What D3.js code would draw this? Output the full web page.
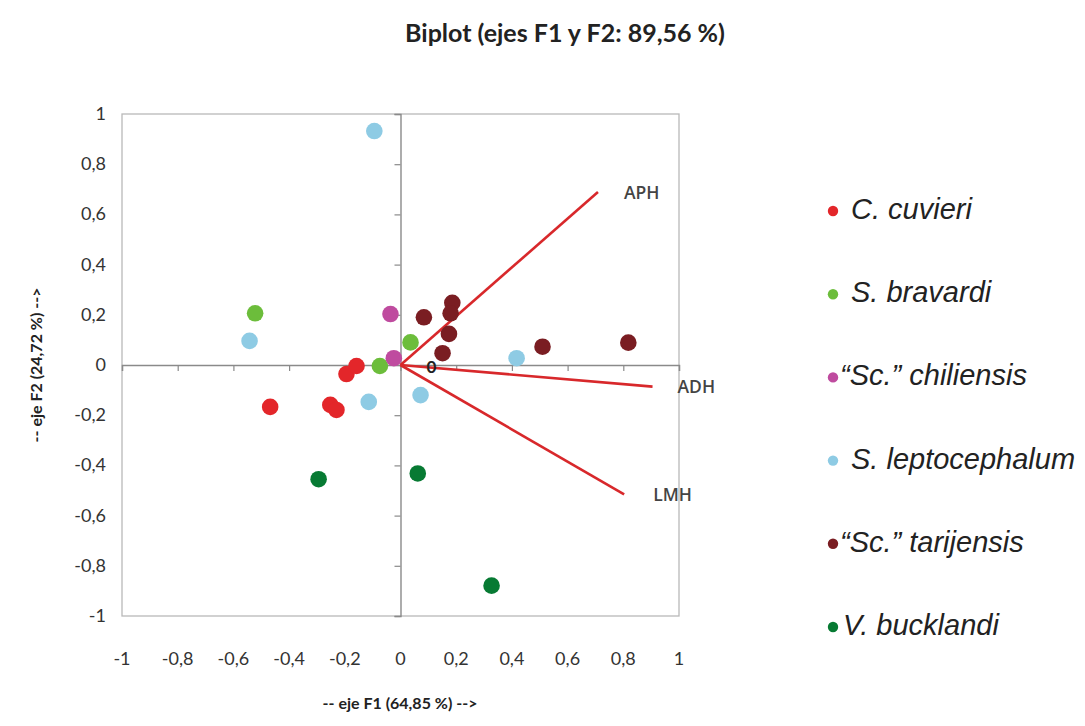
<!DOCTYPE html>
<html><head><meta charset="utf-8">
<script src="https://cdn.jsdelivr.net/npm/d3@7"></script>
<style>body{margin:0;background:#fff}</style>
</head><body>
<svg id="chart" width="1085" height="726"></svg>
<script>
const title = "Biplot (ejes F1 y F2: 89,56 %)";
const xTitle = "-- eje F1 (64,85 %) -->";
const yTitle = "-- eje F2 (24,72 %) -->";
const tickValues = [-1,-0.8,-0.6,-0.4,-0.2,0,0.2,0.4,0.6,0.8,1];
const species = ["C. cuvieri","S. bravardi","\u201cSc.\u201d chiliensis","S. leptocephalum","\u201cSc.\u201d tarijensis","V. bucklandi"];
const colors = ["#e3262a","#6cbd3b","#bf4b9f","#8ecbe4","#7a1d22","#077a33"];
const cuvieri = [[-0.468,-0.167],[-0.252,-0.159],[-0.230,-0.179],[-0.194,-0.036],[-0.158,-0.004]];
const bravardi = [[-0.522,0.206],[-0.074,-0.004],[0.036,0.090]];
const chiliensis = [[-0.036,0.203],[-0.024,0.027]];
const leptocephalum = [[-0.094,0.932],[-0.542,0.096],[-0.114,-0.147],[0.072,-0.120],[0.417,0.027]];
const tarijensis = [[0.186,0.248],[0.180,0.206],[0.084,0.190],[0.174,0.124],[0.151,0.047],[0.510,0.073],[0.818,0.089]];
const bucklandi = [[-0.294,-0.455],[0.062,-0.432],[0.327,-0.879]];
const seriesPoints = [cuvieri,bravardi,chiliensis,leptocephalum,tarijensis,bucklandi];
const vectorNames = ["APH","ADH","LMH"];
const vectorEnds = [[0.709,0.689],[0.905,-0.086],[0.803,-0.515]];

const svg = d3.select("#chart");
const L=122,R=679,T=114,B=616;
const x = d3.scaleLinear().domain([-1,1]).range([L,R]);
const y = d3.scaleLinear().domain([-1,1]).range([B,T]);
const fmt = v => (Math.abs(v)<1e-9?"0":String(+v.toFixed(1)).replace(".",","));
const font = "Lato, 'Open Sans', sans-serif";

svg.append("rect").attr("width",1085).attr("height",726).attr("fill","#fff");

svg.append("text").attr("x",565).attr("y",42).attr("text-anchor","middle")
  .attr("font-family",font).attr("font-weight","bold").attr("font-size",25).attr("fill","#222").text(title);

// frame
svg.append("rect").attr("x",L).attr("y",T).attr("width",R-L).attr("height",B-T)
  .attr("fill","none").attr("stroke","#b9b9b9").attr("stroke-width",1.3);

// axes through origin
const xAxis = d3.axisBottom(x).tickValues(tickValues).tickSize(6).tickFormat("");
const gx = svg.append("g").attr("transform",`translate(0,${y(0)})`).call(xAxis);
const yAxis = d3.axisLeft(y).tickValues(tickValues).tickSize(6).tickFormat("");
const gy = svg.append("g").attr("transform",`translate(${x(0)},0)`).call(yAxis);
[gx,gy].forEach(g=>{g.selectAll("path").attr("stroke","#8a8a8a").attr("stroke-width",1.4);
  g.selectAll("line").attr("stroke","#8a8a8a").attr("stroke-width",1.2);});

// tick labels (low position)
svg.append("g").selectAll("text").data(tickValues).join("text")
  .attr("x",d=>x(d)).attr("y",665).attr("text-anchor","middle")
  .attr("font-family",font).attr("font-size",18).attr("fill","#333").text(fmt);
svg.append("g").selectAll("text").data(tickValues).join("text")
  .attr("x",106).attr("y",d=>y(d)+6).attr("text-anchor","end")
  .attr("font-family",font).attr("font-size",18).attr("fill","#333").text(fmt);

svg.append("text").attr("x",400).attr("y",709).attr("text-anchor","middle")
  .attr("font-family",font).attr("font-weight","bold").attr("font-size",16).attr("fill","#222").text(xTitle);
svg.append("text").attr("transform","translate(42,365) rotate(-90)").attr("text-anchor","middle")
  .attr("font-family",font).attr("font-weight","bold").attr("font-size",16).attr("fill","#222").text(yTitle);

// vectors
const vg = svg.append("g");
vg.selectAll("line").data(vectorEnds).join("line")
  .attr("x1",x(0)).attr("y1",y(0)).attr("x2",d=>x(d[0])).attr("y2",d=>y(d[1]))
  .attr("stroke","#d8282b").attr("stroke-width",2.6);
const labOff = [[26,1],[25,0],[29,1]];
vg.selectAll("text").data(vectorEnds).join("text")
  .attr("x",(d,i)=>x(d[0])+labOff[i][0]).attr("y",(d,i)=>y(d[1])+labOff[i][1]+6)
  .attr("font-family","'Open Sans', sans-serif").attr("font-weight",600).attr("font-size",17.5).attr("fill","#444")
  .text((d,i)=>vectorNames[i]);
svg.append("text").attr("x",x(0)+31).attr("y",y(0)+8).attr("text-anchor","middle")
  .attr("font-family",font).attr("font-weight","bold").attr("font-size",17).attr("fill","#222").text("0");

// points
seriesPoints.forEach((pts,i)=>{
  svg.append("g").selectAll("circle").data(pts).join("circle")
    .attr("cx",d=>x(d[0])).attr("cy",d=>y(d[1])).attr("r",8.3).attr("fill",colors[i]);
});

// legend
const lg = svg.append("g");
species.forEach((s,i)=>{
  const yy = 209 + i*83.2;
  lg.append("circle").attr("cx",833).attr("cy",yy+2).attr("r",5.2).attr("fill",colors[i]);
  lg.append("text").attr("x",i===2||i===4?840:(i===5?843:851)).attr("y",yy+10)
    .attr("font-family","'Liberation Sans', Arial, sans-serif").attr("font-style","italic")
    .attr("font-size",29).attr("fill","#222").text(s);
});
</script>
</body></html>
